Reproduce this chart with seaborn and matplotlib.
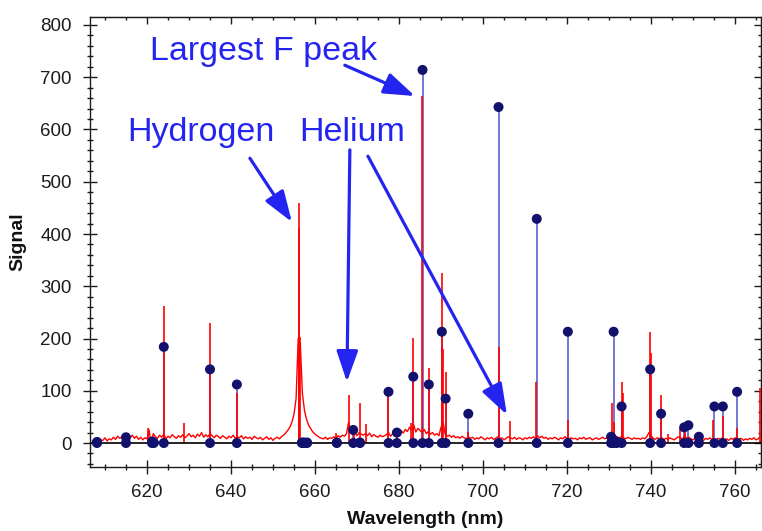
import numpy as np
import pandas as pd
import matplotlib
matplotlib.use("Agg")
import matplotlib.pyplot as plt
from matplotlib.ticker import MultipleLocator
import seaborn as sns

# ---------------- data ----------------
# measured spectrum baseline (red), sampled every 0.5 nm from 607.0 to 766.0
spec_start = 607.0
spec_step = 0.5
spec_signal = [
    4, 7, 3, 9, 6, 5, 10, 4, 8, 6,
    11, 7, 13, 9, 12, 14, 8, 12, 10, 15,
    9, 13, 7, 11, 6, 10, 8, 25, -4, 18,
    12, 9, 15, 11, 17, 8, 13, 10, 16, 12,
    9, 14, 11, 16, 10, 13, 18, 12, 15, 10,
    17, 13, 20, 11, 16, 12, 18, 14, 10, 15,
    12, 9, 14, 11, 8, 13, 10, 15, 9, 12,
    10, 14, 8, 12, 9, 11, 7, 13, 10, 8,
    11, 6, 9, 12, 7, 10, 5, 9, 11, 8,
    12, 15, 19, 24, 30, 40, 55, 85, 200, 190,
    95, 62, 45, 34, 27, 21, 17, 14, 11, 9,
    8, 11, 7, 10, 9, 12, 8, 14, 11, 15,
    13, 18, 40, 22, 16, 19, 14, 20, 17, 15,
    18, 14, 19, 12, 16, 13, 11, 15, 12, 14,
    16, 20, 13, 18, 15, 21, 17, 24, 19, 26,
    22, 30, 25, 35, 21, 28, 24, 20, 26, 18,
    22, 17, 20, 15, 18, 14, 30, 40, 16, 13,
    15, 11, 14, 10, 12, 9, 13, 10, 8, 12,
    9, 11, 7, 10, 8, 12, 9, 6, 10, 8,
    11, 7, 9, 12, 8, 10, 6, 9, 12, 10,
    8, 11, 7, 10, 9, 6, 10, 8, 11, 9,
    12, 8, 14, 10, 13, 9, 11, 7, 10, 8,
    11, 9, 6, 10, 8, 12, 9, 7, 10, 8,
    9, 6, 10, 8, 11, 7, 9, 10, 6, 8,
    10, 7, 9, 11, 8, 10, 12, 9, 20, 14,
    11, 9, 13, 10, 8, 11, 9, 7, 10, 8,
    9, 7, 10, 8, 12, 20, 15, 9, 7, 10,
    8, 11, 6, 9, 7, 10, 8, 6, 9, 12,
    10, 7, 14, 9, 11, 8, 6, 9, 7, 10,
    8, 5, 9, 7, 10, 6, 8, 5, 9, 7,
    10, 6, 8, 5, 9, 7, 10, 6, 8, 9,
    5, 8, 6, 9, 7, 10, 6, 8, 12,
]

# sharp emission lines in the measured spectrum (red)
peak_wl = [620.2, 624.0, 628.9, 634.9, 641.5, 656.1, 656.3, 656.5, 665.0, 668.0,
           669.2, 670.7, 672.1, 677.5, 679.5, 682.9, 683.4, 685.5, 687.1, 690.2,
           690.5, 691.1, 696.5, 703.7, 706.4, 712.7, 720.2, 730.6, 731.3, 733.0,
           733.3, 739.8, 740.1, 742.4, 744.0, 746.9, 748.1, 751.2, 754.8, 757.1,
           760.5, 766.0]
peak_signal = [28, 263, 38, 230, 95, 411, 460, 203, 19, 92,
               28, 76, 36, 96, 20, 38, 201, 665, 143, 326,
               180, 136, 22, 184, 42, 117, 45, 76, 40, 117,
               96, 213, 172, 92, 17, 29, 28, 15, 44, 52,
               28, 105]

# reference line list (blue stems with dots)
ref_wl = [608.1, 615.0, 621.2, 621.6, 624.0, 635.0, 641.4, 656.9, 657.4, 658.1,
          665.2, 669.1, 670.7, 677.5, 679.5, 683.4, 685.6, 687.1, 690.2, 691.1,
          696.5, 703.7, 712.8, 720.2, 730.5, 731.1, 731.8, 733.0, 739.8, 742.4,
          747.9, 748.9, 751.4, 755.1, 757.1, 760.5]
ref_signal = [2, 11, 3, 1, 184, 141, 112, 1, 1, 1,
              1, 25, 1, 98, 20, 127, 714, 112, 213, 85,
              56, 643, 429, 213, 12, 213, 3, 70, 141, 56,
              30, 34, 12, 70, 70, 98]

x_major = [620, 640, 660, 680, 700, 720, 740, 760]
y_major = [0, 100, 200, 300, 400, 500, 600, 700, 800]

labels = ["Largest F peak", "Hydrogen", "Helium"]

# ---------------- style ----------------
sns.set_style("ticks")
plt.rcParams["font.family"] = ["Liberation Sans", "DejaVu Sans"]

BLUE_TXT = "#2424f0"
STEM = "#6b6bd6"
NAVY = "#12126e"
TICKC = "#1c1c1c"

fig = plt.figure(figsize=(7.62, 5.31), dpi=100)
ax = fig.add_axes([90 / 762, 64 / 531, 671 / 762, 450 / 531])

spec_wl = spec_start + spec_step * np.arange(len(spec_signal))
spec_df = pd.DataFrame({"wavelength": spec_wl, "signal": spec_signal})
ref_df = pd.DataFrame({"wavelength": ref_wl, "signal": ref_signal})
base_df = pd.DataFrame({"wavelength": ref_wl, "signal": [0] * len(ref_wl)})

# blue stems
ax.vlines(ref_df["wavelength"], 0, ref_df["signal"], color=STEM, lw=1.3, zorder=2)
# red spectrum
sns.lineplot(data=spec_df, x="wavelength", y="signal", color="red", lw=1.0,
             estimator=None, sort=False, ax=ax, zorder=3)
ax.vlines(peak_wl, 0, peak_signal, color="red", lw=1.2, zorder=3)
# zero line
ax.axhline(0, color="black", lw=1.2, zorder=4)
# dots
sns.scatterplot(data=ref_df, x="wavelength", y="signal", color=NAVY, s=52,
                edgecolor="none", ax=ax, zorder=5)
sns.scatterplot(data=base_df, x="wavelength", y="signal", color=NAVY, s=52,
                edgecolor="none", ax=ax, zorder=5)

ax.set_xlim(606.43, 766.19)
ax.set_ylim(-45.9, 815.3)
ax.set_xlabel("")
ax.set_ylabel("")

ax.set_xticks(x_major)
ax.set_yticks(y_major)
ax.xaxis.set_minor_locator(MultipleLocator(5))
ax.yaxis.set_minor_locator(MultipleLocator(20))
ax.tick_params(which="major", direction="inout", length=9.5, width=1.0,
               color=TICKC, labelcolor=TICKC, labelsize=13.5)
ax.tick_params(which="minor", direction="inout", length=4.5, width=1.0, color=TICKC)
ax.tick_params(axis="y", which="major", pad=8.3)
ax.tick_params(axis="x", which="major", pad=7.5)
for s in ax.spines.values():
    s.set_color(TICKC)
    s.set_linewidth(1.0)

secx = ax.secondary_xaxis("top")
secx.set_xticks(x_major)
secx.xaxis.set_minor_locator(MultipleLocator(5))
secx.tick_params(which="major", direction="in", length=5, width=1.0, color=TICKC, labeltop=False)
secx.tick_params(which="minor", direction="in", length=2.5, width=1.0, color=TICKC)
secy = ax.secondary_yaxis("right")
secy.set_yticks(y_major)
secy.yaxis.set_minor_locator(MultipleLocator(20))
secy.tick_params(which="major", direction="in", length=5, width=1.0, color=TICKC, labelright=False)
secy.tick_params(which="minor", direction="in", length=2.5, width=1.0, color=TICKC)

# annotations
ax.text(620.7, 733, labels[0], fontsize=24.5, color=BLUE_TXT, va="baseline", ha="left", zorder=6)
ax.text(615.2, 578, labels[1], fontsize=24.5, color=BLUE_TXT, va="baseline", ha="left", zorder=6)
ax.text(656.2, 578, labels[2], fontsize=24.5, color=BLUE_TXT, va="baseline", ha="left", zorder=6)

arrow_kw = dict(arrowstyle="-|>,head_length=0.95,head_width=0.33", color=BLUE_TXT,
                lw=2.3, mutation_scale=20, shrinkA=0, shrinkB=0)
arrows = [((667.1, 723), (683.8, 664)),
          ((644.5, 545), (654.5, 423)),
          ((668.3, 561), (667.6, 117)),
          ((672.6, 549), (705.7, 54))]
for start, end in arrows:
    ax.annotate("", xy=end, xytext=start, arrowprops=arrow_kw, zorder=6)

fig.text(18 / 762, 1 - 242 / 531, "Signal", rotation=90, fontsize=14, fontweight="bold",
         ha="center", va="center", color="#111111")
fig.text(425 / 762, 1 - 520 / 531, "Wavelength (nm)", fontsize=14, fontweight="bold",
         ha="center", va="center", color="#111111")

fig.savefig("out.png", dpi=100)
